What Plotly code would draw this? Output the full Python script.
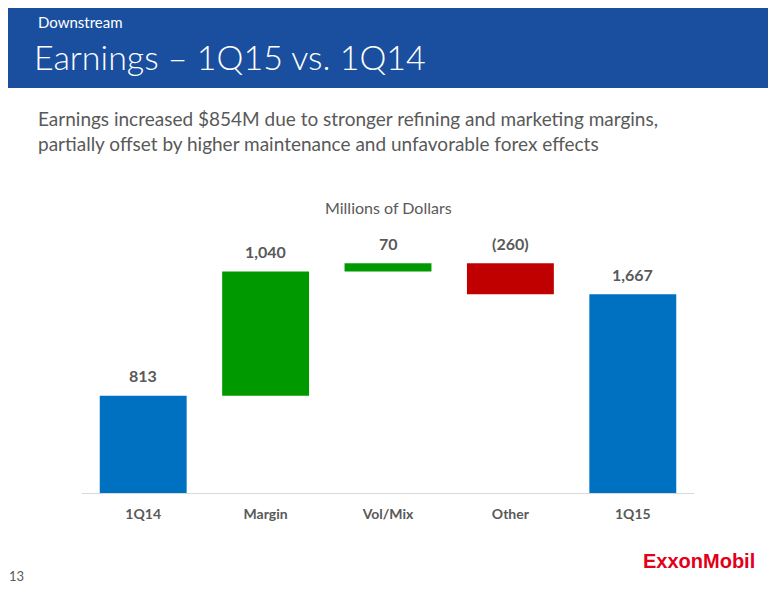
import plotly.graph_objects as go

categories = ["1Q14", "Margin", "Vol/Mix", "Other", "1Q15"]
values = [813, 1040, 70, -260, 1667]
measures = ["absolute", "relative", "relative", "relative", "total"]
labels = ["813", "1,040", "70", "(260)", "1,667"]

fig = go.Figure()
fig.add_trace(go.Waterfall(
    x=categories, y=values, measure=measures,
    increasing=dict(marker=dict(color="#009A00")),
    decreasing=dict(marker=dict(color="#C00000")),
    totals=dict(marker=dict(color="#0070C0")),
    connector=dict(visible=False),
    width=0.71, hoverinfo="skip",
))

# labels above each bar top
running = 0
for cat, v, m, lab in zip(categories, values, measures, labels):
    if m == "absolute":
        top = v
        running = v
    elif m == "total":
        top = running
    else:
        top = max(running, running + v)
        running += v
    fig.add_annotation(x=cat, y=top, text="<b>" + lab + "</b>", showarrow=False,
                       yshift=20, font=dict(size=16, color="#595959"))

# page has 8px body margin, so figure coords = screen - 8
H = 239
def py(px):
    return (485 - (px - 8)) / H

def px_(x):
    return (x - 8 - 74) / 612

fig.add_shape(type="rect", xref="paper", yref="paper", x0=-0.2, x1=1.2,
              y0=py(88), y1=py(-10), fillcolor="#1A4E9E", line_width=0, layer="below")
fig.add_annotation(xref="paper", yref="paper", x=px_(36), y=py(22), xanchor="left", yanchor="middle",
                   text="Downstream", showarrow=False, font=dict(size=15, color="white"))
fig.add_annotation(xref="paper", yref="paper", x=px_(32), y=py(57), xanchor="left", yanchor="middle",
                   text="Earnings – 1Q15 vs. 1Q14", showarrow=False,
                   font=dict(size=34, color="white", family="Lato Light, Lato"))
fig.add_annotation(xref="paper", yref="paper", x=px_(36), y=py(131), xanchor="left", yanchor="middle",
                   align="left", showarrow=False,
                   text="Earnings increased $854M due to stronger refining and marketing margins,<br>partially offset by higher maintenance and unfavorable forex effects",
                   font=dict(size=19, color="#595959"))
fig.add_annotation(xref="paper", yref="paper", x=0.5, y=py(207), yanchor="middle", text="Millions of Dollars",
                   showarrow=False, font=dict(size=16, color="#595959"))
fig.add_annotation(xref="paper", yref="paper", x=px_(7), y=py(576), xanchor="left", yanchor="middle",
                   text="13", showarrow=False, font=dict(size=13, color="#595959"))
fig.add_annotation(xref="paper", yref="paper", x=px_(757), y=py(561), xanchor="right", yanchor="middle",
                   text="<b>ExxonMobil</b>", showarrow=False,
                   font=dict(size=20, color="#E2001A", family="Arial, Liberation Sans"))

fig.update_layout(
    width=776, height=600, margin=dict(l=74, r=90, t=246, b=115),
    paper_bgcolor="white", plot_bgcolor="white", showlegend=False,
    font=dict(family="Lato, Open Sans", color="#595959"),
    xaxis=dict(showline=True, linecolor="#D9D9D9", linewidth=1, ticks="",
               tickfont=dict(size=14, color="#595959"), ticklabelstandoff=8,
               tickprefix="<b>", ticksuffix="</b>"),
    yaxis=dict(range=[0, 2000], visible=False),
)
fig.write_html("out.html")
